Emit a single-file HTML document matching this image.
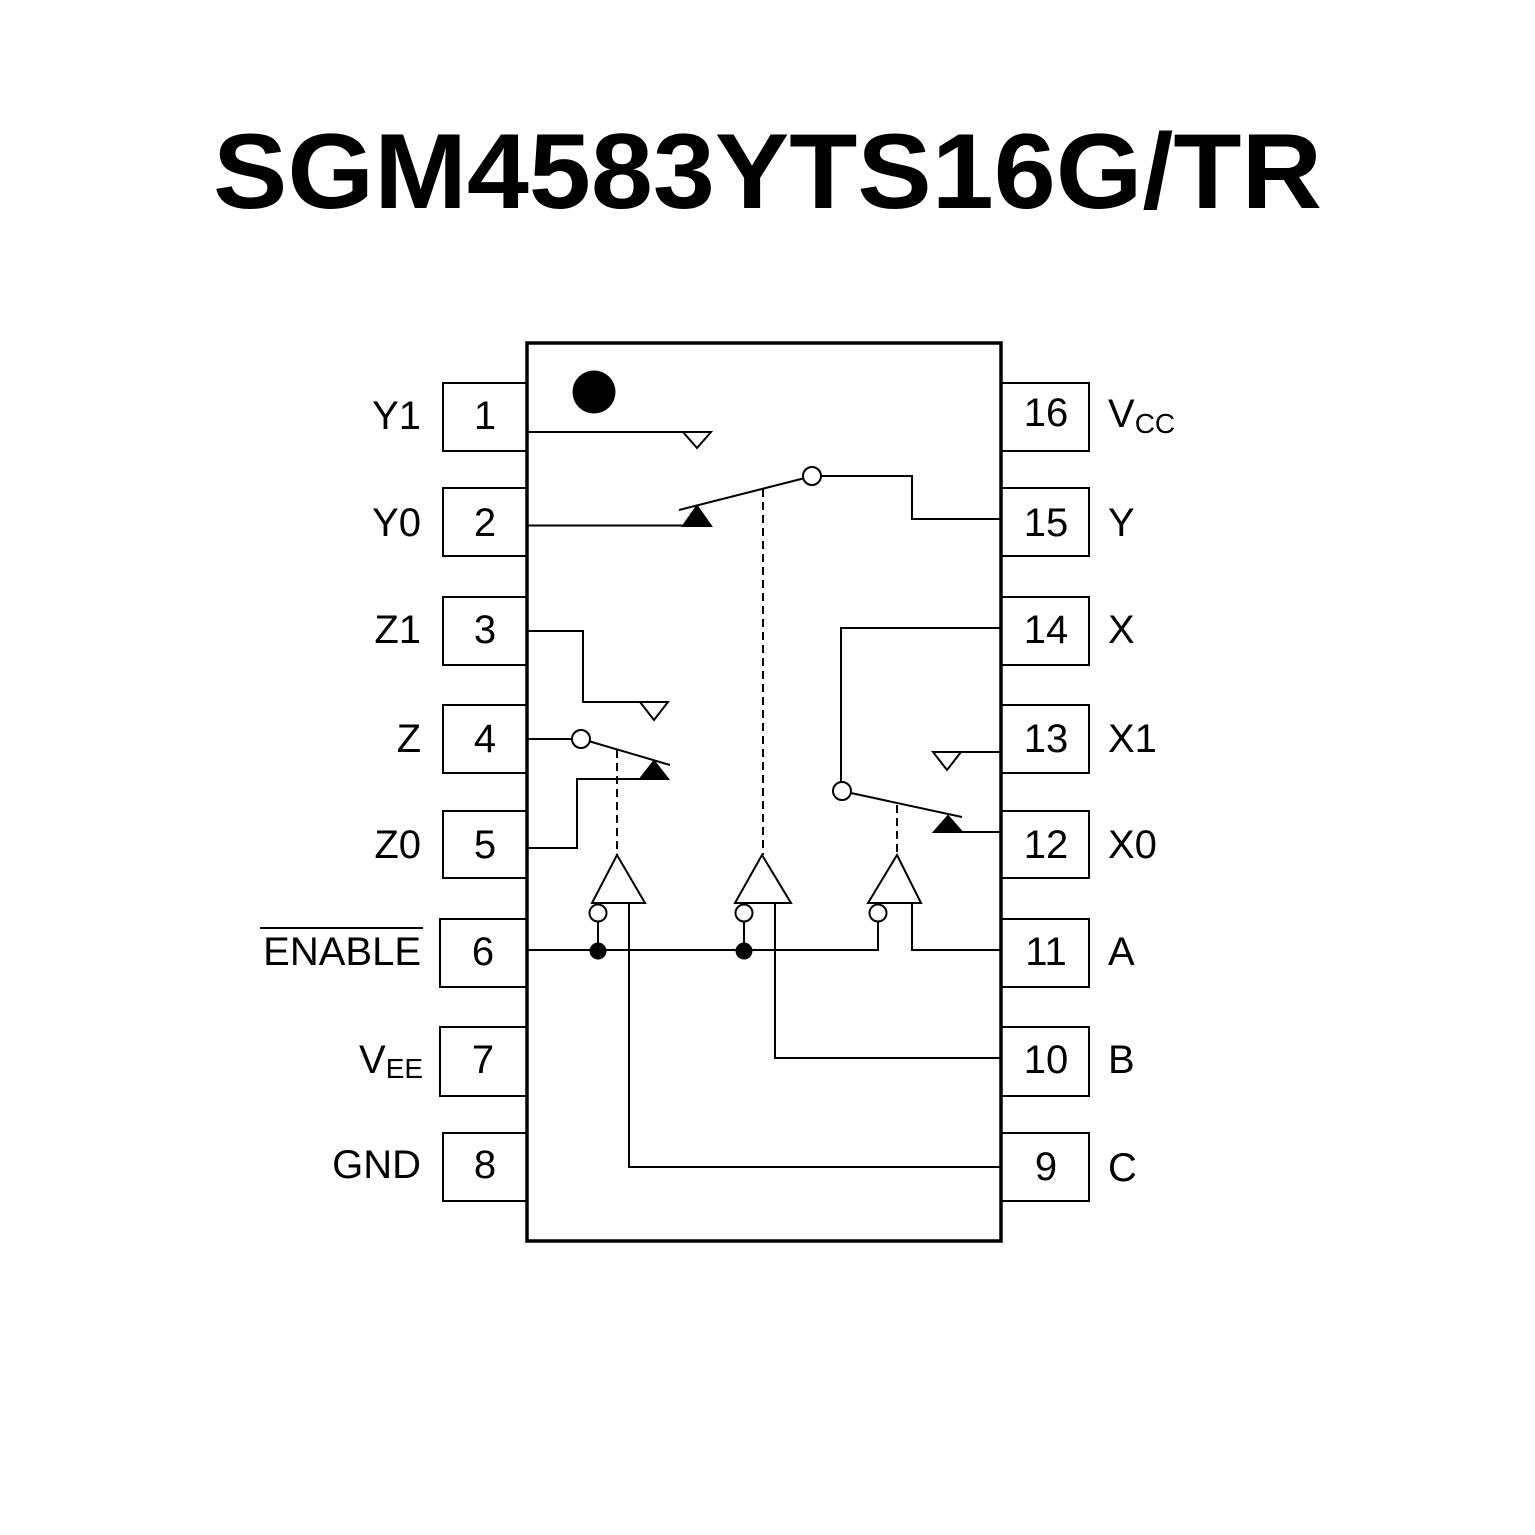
<!DOCTYPE html>
<html>
<head>
<meta charset="utf-8">
<style>
html,body{margin:0;padding:0;background:#fff;}
svg{display:block;}
text{font-family:"Liberation Sans", Arial, sans-serif;fill:#000;}
</style>
</head>
<body>
<svg width="1535" height="1535" viewBox="0 0 1535 1535" xmlns="http://www.w3.org/2000/svg">
<rect x="0" y="0" width="1535" height="1535" fill="#fff"/>
<!-- Title -->
<text x="213" y="208" font-size="107" font-weight="bold" textLength="1109" lengthAdjust="spacingAndGlyphs">SGM4583YTS16G/TR</text>

<g fill="none" stroke="#000" stroke-width="2">
  <!-- Left pin boxes -->
  <rect x="443" y="383" width="84" height="68"/>
  <rect x="443" y="488" width="84" height="68"/>
  <rect x="443" y="597" width="84" height="68"/>
  <rect x="443" y="705" width="84" height="68"/>
  <rect x="443" y="811" width="84" height="67"/>
  <rect x="440" y="919" width="87" height="68"/>
  <rect x="440" y="1027" width="87" height="69"/>
  <rect x="443" y="1133" width="84" height="68"/>
  <!-- Right pin boxes -->
  <rect x="1001" y="383" width="88" height="68"/>
  <rect x="1001" y="488" width="88" height="68"/>
  <rect x="1001" y="597" width="88" height="68"/>
  <rect x="1001" y="705" width="88" height="68"/>
  <rect x="1001" y="811" width="88" height="67"/>
  <rect x="1001" y="919" width="88" height="68"/>
  <rect x="1001" y="1027" width="88" height="69"/>
  <rect x="1001" y="1133" width="88" height="68"/>
</g>

<!-- Main body -->
<rect x="527" y="343" width="474" height="898" fill="none" stroke="#000" stroke-width="3.5"/>
<circle cx="594" cy="392" r="21.5" fill="#000"/>

<g fill="none" stroke="#000" stroke-width="2">
  <!-- Pin 1 -->
  <path d="M527 432 H683"/>
  <!-- Pin 2 -->
  <path d="M527 525.5 H683"/>
  <!-- Y switch lever -->
  <path d="M679 510 L803 478.5"/>
  <path d="M821 476 H912 V519 H1001"/>
  <!-- Pin 3 -->
  <path d="M527 631 H583 V702 H640"/>
  <!-- Pin 4 -->
  <path d="M527 739 H572"/>
  <path d="M590 741.5 L670 765"/>
  <!-- Pin 5 -->
  <path d="M527 848 H577 V779 H640"/>
  <!-- Pin 14 -->
  <path d="M1001 628 H841 V782"/>
  <path d="M851 793 L962 817"/>
  <!-- Pin 13 -->
  <path d="M1001 752 H961"/>
  <!-- Pin 12 -->
  <path d="M1001 832 H962"/>
  <!-- Enable line -->
  <path d="M527 950 H878 V922"/>
  <path d="M598 922 V951"/>
  <path d="M744 922 V951"/>
  <!-- Pin 11 -->
  <path d="M912 903 V950 H1001"/>
  <!-- Pin 10 -->
  <path d="M775 903 V1058 H1001"/>
  <!-- Pin 9 -->
  <path d="M629 903 V1167 H1001"/>
  <!-- Dashed control lines -->
  <path d="M763 489 V855" stroke-dasharray="8,5"/>
  <path d="M617 750 V855" stroke-dasharray="8,5"/>
  <path d="M897 805 V855" stroke-dasharray="8,5"/>
</g>

<g stroke="#000" stroke-width="2">
  <!-- hollow triangles (pointing down) -->
  <polygon points="683,432 711,432 697,448" fill="#fff"/>
  <polygon points="640,702 668,702 654,720" fill="#fff"/>
  <polygon points="933,752 961,752 947,770" fill="#fff"/>
  <!-- filled triangles (pointing up) -->
  <polygon points="683,526 711,526 697,506" fill="#000"/>
  <polygon points="640,779 668,779 654,761" fill="#000"/>
  <polygon points="934,832 962,832 948,816" fill="#000"/>
  <!-- switch pivot circles -->
  <circle cx="812" cy="476" r="9" fill="#fff"/>
  <circle cx="581" cy="739" r="9" fill="#fff"/>
  <circle cx="842" cy="791" r="9" fill="#fff"/>
  <!-- buffers -->
  <polygon points="617,855 645,903 592,903" fill="#fff"/>
  <polygon points="762,855 791,903 735,903" fill="#fff"/>
  <polygon points="897,855 921,903 868,903" fill="#fff"/>
  <!-- inversion bubbles -->
  <circle cx="598" cy="913" r="8.5" fill="#fff"/>
  <circle cx="744" cy="913" r="8.5" fill="#fff"/>
  <circle cx="878" cy="913" r="8.5" fill="#fff"/>
  <!-- junction dots -->
  <circle cx="598" cy="951" r="8.5" fill="#000" stroke="none"/>
  <circle cx="744" cy="951" r="8.5" fill="#000" stroke="none"/>
</g>

<!-- Pin numbers -->
<g font-size="40" text-anchor="middle">
  <text x="485" y="429">1</text>
  <text x="485" y="536">2</text>
  <text x="485" y="643">3</text>
  <text x="485" y="752">4</text>
  <text x="485" y="858">5</text>
  <text x="483" y="965">6</text>
  <text x="483" y="1073">7</text>
  <text x="485" y="1178">8</text>
  <text x="1046" y="426">16</text>
  <text x="1046" y="536">15</text>
  <text x="1046" y="643">14</text>
  <text x="1046" y="752">13</text>
  <text x="1046" y="858">12</text>
  <text x="1046" y="965">11</text>
  <text x="1046" y="1073">10</text>
  <text x="1046" y="1180">9</text>
</g>

<!-- Left labels -->
<g font-size="40" text-anchor="end">
  <text x="421" y="429">Y1</text>
  <text x="421" y="536">Y0</text>
  <text x="421" y="643">Z1</text>
  <text x="421" y="752">Z</text>
  <text x="421" y="858">Z0</text>
  <text x="421" y="965">ENABLE</text>
  <text x="421" y="1178">GND</text>
</g>
<line x1="260" y1="928" x2="423" y2="928" stroke="#000" stroke-width="2"/>
<text x="359" y="1073" font-size="40">V<tspan font-size="28" dy="5">EE</tspan></text>

<!-- Right labels -->
<g font-size="40">
  <text x="1108" y="427">V<tspan font-size="28" dy="6">CC</tspan></text>
  <text x="1108" y="536">Y</text>
  <text x="1108" y="643">X</text>
  <text x="1108" y="752">X1</text>
  <text x="1108" y="858">X0</text>
  <text x="1108" y="965">A</text>
  <text x="1108" y="1073">B</text>
  <text x="1108" y="1181">C</text>
</g>
</svg>
</body>
</html>
